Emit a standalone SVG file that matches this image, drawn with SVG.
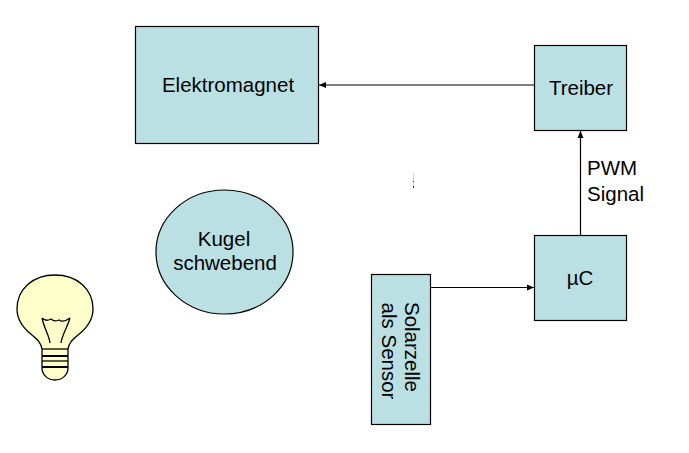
<svg xmlns="http://www.w3.org/2000/svg" width="689" height="453" viewBox="0 0 689 453">
<style>
.box{fill:#bbe0e3;stroke:#000;stroke-width:1.2}
.t{font-family:"Liberation Sans",Arial,sans-serif;font-size:20.500px;fill:#000;text-anchor:middle}
.c{fill:none;stroke:#000;stroke-width:1.2}
.b{fill:none;stroke:#000;stroke-width:1.3}
</style>
<defs><marker id="a" markerUnits="userSpaceOnUse" markerWidth="8" markerHeight="8" refX="7" refY="4" orient="auto"><path d="M0 1L7 4L0 7Z" fill="#000"/></marker></defs>
<rect width="689" height="453" fill="#fff"/>
<g id="connectors">
<path class="c" d="M534.500 85H319" marker-end="url(#a)"/>
<path class="c" d="M580.500 235.500V131" marker-end="url(#a)"/>
<path class="c" d="M430.500 287.500H534" marker-end="url(#a)"/>
</g>
<g id="elektromagnet"><rect class="box" x="135.500" y="26.500" width="183" height="117"/><text class="t" x="228" y="92">Elektromagnet</text></g>
<g id="treiber"><rect class="box" x="534.500" y="45.500" width="92" height="85"/><text class="t" x="581" y="95">Treiber</text></g>
<g id="uc"><rect class="box" x="534.500" y="235.500" width="92" height="85"/><text class="t" x="580" y="285">µC</text></g>
<g id="pwm"><text class="t" style="text-anchor:start" x="587" y="175">PWM</text><text class="t" style="text-anchor:start" x="587" y="201">Signal</text></g>
<g id="kugel"><ellipse class="box" cx="224.500" cy="252" rx="68.500" ry="62"/><text class="t" x="224" y="246">Kugel</text><text class="t" x="225" y="270">schwebend</text></g>
<g id="solarzelle"><rect class="box" x="371.500" y="274.500" width="59" height="150"/>
<text class="t" transform="translate(405 347) rotate(90)">Solarzelle</text>
<text class="t" transform="translate(382 351) rotate(90)">als Sensor</text></g>
<g id="mark"><path d="M413.500 173V188" stroke="#bbe0e3" stroke-width="1"/><path d="M413.500 181V182M413.500 186V188" stroke="#333" stroke-width="1"/></g>
<g id="lampe">
<path d="M42 349C41 343 38 340 32 335C23 328 17 319 17 309C17 289 33 275 55 275C77 275 93 289 93 309C93 319 87 328 78 335C72 340 69 343 68 349V368C68 375 62 380 55 380C48 380 42 375 42 368Z" fill="#ffffcc" stroke="#000" stroke-width="1.300"/>
<path class="b" d="M42 349H68"/>
<path d="M42 356H68M42 367H68" fill="none" stroke="#000" stroke-width="2"/>
<path class="b" d="M42 361H68"/>
<path class="b" d="M42 318C44 328 49 335 50 343M70 318C67 328 62 335 61 343M42 318C46 322 49 320 51 319C54 322 57 321 59 320C62 322 66 321 70 318"/>
</g>
</svg>
